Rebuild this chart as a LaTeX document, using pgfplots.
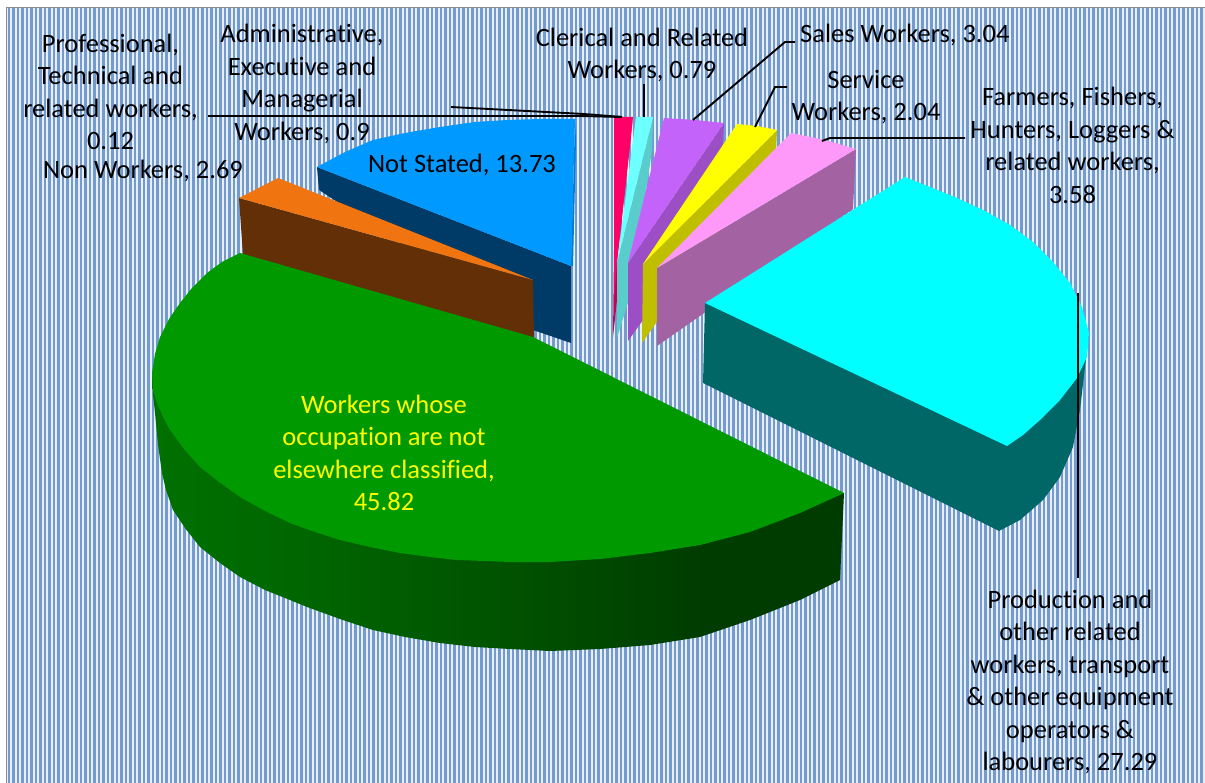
\documentclass[border=0pt]{standalone}
\usepackage{fontspec}
\setmainfont[Ligatures=NoCommon]{Carlito}
\usepackage{pgfplots}
\pgfplotsset{compat=1.18}
\usetikzlibrary{patterns.meta}
\definecolor{stripe}{RGB}{116,155,208}
\definecolor{stripeback}{RGB}{232,239,248}
\definecolor{frame}{RGB}{140,140,140}
\definecolor{nsSide}{RGB}{0,58,102}
\definecolor{nsEdge}{RGB}{0,125,210}
\definecolor{nsTop}{RGB}{0,153,255}
\definecolor{nwSide}{RGB}{99,47,6}
\definecolor{nwTop}{RGB}{240,117,16}
\definecolor{prSide}{RGB}{200,0,82}
\definecolor{prTop}{RGB}{255,0,102}
\definecolor{adSide}{RGB}{91,204,204}
\definecolor{adTop}{RGB}{110,255,255}
\definecolor{saSide}{RGB}{156,79,196}
\definecolor{saTop}{RGB}{196,99,250}
\definecolor{seSide}{RGB}{191,191,0}
\definecolor{seTop}{RGB}{255,255,0}
\definecolor{faSide}{RGB}{163,99,163}
\definecolor{faTop}{RGB}{255,153,249}
\definecolor{poSide}{RGB}{0,102,102}
\definecolor{poTop}{RGB}{0,255,255}
\definecolor{grTop}{RGB}{0,153,0}
\pgfdeclarehorizontalshading{greenrim}{100bp}{
 rgb(0bp)=(0,0.533,0); rgb(12.7bp)=(0,0.51,0); rgb(21bp)=(0,0.455,0); rgb(36bp)=(0,0.40,0);
 rgb(52bp)=(0,0.314,0); rgb(65bp)=(0,0.235,0); rgb(100bp)=(0,0.227,0)}
\pgfplotsset{poly/.style={fill=#1,draw=none},leader/.style={black,line width=1.9pt}}
\tikzset{lab/.style={align=center,font=\fontsize{26.5}{32.5}\selectfont,text=black,inner sep=0pt}}
\begin{document}
\begin{tikzpicture}
\begin{axis}[width=1205pt,height=783pt,scale only axis,axis lines=none,
  xmin=0,xmax=1205,ymin=0,ymax=783,y dir=reverse,no markers,clip=true]
% background
\addplot[fill=white,draw=none] coordinates {(0,0)(1205,0)(1205,783)(0,783)} --cycle;
\addplot[fill=stripeback,draw=none] coordinates {(7,8)(1205,8)(1205,783)(7,783)} --cycle;
\addplot[draw=none,pattern={Lines[angle=90,distance=4.5pt,line width=2.5pt]},pattern color=stripe] coordinates {(7,8)(1205,8)(1205,783)(7,783)} --cycle;
\addplot[draw=frame,line width=1.6pt] coordinates {(6.5,783)(6.5,7.5)(1205,7.5)};
% Not Stated
\addplot[poly=nsSide] coordinates {(317,167)(571,266)(571,343)(533,330)(319,190)} --cycle;
\addplot[poly=nsEdge] coordinates {(575,119)(576,140)(573,266)(571,266)} --cycle;
\addplot[poly=nsTop] coordinates {(317,167)(345,152)(373,140)(405,133)(440,127)(475,122)(507,120)(540,119)(575,119)(571,266)} --cycle;
% Non Workers
\addplot[poly=nwSide] coordinates {(239,198)(533,280)(534,338)(243,255)} --cycle;
\addplot[poly=nwTop] coordinates {(239,198)(278,178)(533,280)} --cycle;
% Professional
\addplot[poly=prSide] coordinates {(633,117)(617,262)(617,300)(613,337)(614,250)} --cycle;
\addplot[poly=prTop] coordinates {(614,117)(633,117)(617,262)(614,300)} --cycle;
% Administrative
\addplot[poly=adSide] coordinates {(653,117)(617,263)(617,338)(632,290)(652,150)} --cycle;
\addplot[poly=adTop] coordinates {(636,117)(653,117)(617,263)} --cycle;
% Sales
\addplot[poly=saSide] coordinates {(724,123)(628,263)(628,341)(643,320)(723,145)} --cycle;
\addplot[poly=saTop] coordinates {(664,118)(695,120)(724,123)(628,263)} --cycle;
% Service
\addplot[poly=seSide] coordinates {(777,130)(776,152)(642,343)(643,264)} --cycle;
\addplot[poly=seTop] coordinates {(737,124)(757,126)(777,130)(643,264)} --cycle;
% Farmers
\addplot[poly=faSide] coordinates {(856,149)(853,209)(657,346)(657,268)} --cycle;
\addplot[poly=faTop] coordinates {(791,133)(825,140)(856,149)(657,268)} --cycle;
% Production
\addplot[poly=poSide] coordinates {(705,303)(1089,333)(1085,367)(1080,410)(1073,447)(1060,477)(1043,500)(1020,520)(999,531)(703,383)} --cycle;
\addplot[poly=poTop] coordinates {(705,303)(905,177)(930,187)(957,198)(983,210)(1010,225)(1033,242)(1053,262)(1070,283)(1082,307)(1089,333)(1087,357)(1077,378)(1060,400)(1040,420)(1023,435)(1007,446)} --cycle;
% Workers n.e.c.: rim, then face
\addplot[shading=greenrim,draw=none] coordinates {(152,373)(153,395)(155,413)(158,445)(162,473)(166,490)(173,510)(185,528)(200,547)(220,563)(240,577)(265,590)(290,600)(307,607)(340,619)(373,630)(405,637)(440,643)(475,647)(510,649)(550,651)(600,649)(650,645)(700,637)(750,620)(800,600)(840,580)(844,493)(500,500)} --cycle;
\addplot[poly=grTop] coordinates {(240,253)(222,262)(207,273)(192,288)(180,303)(169,319)(160,337)(155,354)(152,373)(153,390)(157,403)(163,417)(170,430)(184,449)(200,467)(219,482)(240,497)(265,511)(290,523)(315,532)(340,540)(370,547)(400,553)(430,557)(457,560)(485,561)(510,562)(550,562)(600,559)(650,553)(700,545)(750,532)(800,513)(844,493)(533,337)} --cycle;
% leaders
\addplot[leader] coordinates {(208,116)(580,116)(622,117)};
\addplot[leader] coordinates {(451,107)(584,114)(622,117)};
\addplot[leader] coordinates {(644,84)(644,117)};
\addplot[leader] coordinates {(795,42)(785,42)(693,120)};
\addplot[leader] coordinates {(787,87)(775,87)(755,127)};
\addplot[leader] coordinates {(965,138)(830,138)(822,141)};
\addplot[leader] coordinates {(1078,293)(1078,578)};
% labels
\node[lab] at (110.5,92) {Professional,\\Technical and\\related workers,\\0.12};
\node[lab] at (143,171) {Non Workers, 2.69};
\node[lab] at (302,84) {Administrative,\\Executive and\\Managerial\\Workers, 0.9};
\node[lab] at (642,55) {Clerical and Related\\Workers, 0.79};
\node[lab,anchor=west] at (800,34.5) {Sales Workers, 3.04};
\node[lab] at (866,97) {Service\\Workers, 2.04};
\node[lab] at (1072.5,145.5) {Farmers, Fishers,\\Hunters, Loggers \&\\related workers,\\3.58};
\node[lab] at (1070,682) {Production and\\other related\\workers, transport\\\& other equipment\\operators \&\\labourers, 27.29};
\node[lab] at (462,164.5) {Not Stated, 13.73};
\node[lab,text=seTop] at (384,453) {Workers whose\\occupation are not\\elsewhere classified,\\45.82};
\end{axis}
\end{tikzpicture}
\end{document}
